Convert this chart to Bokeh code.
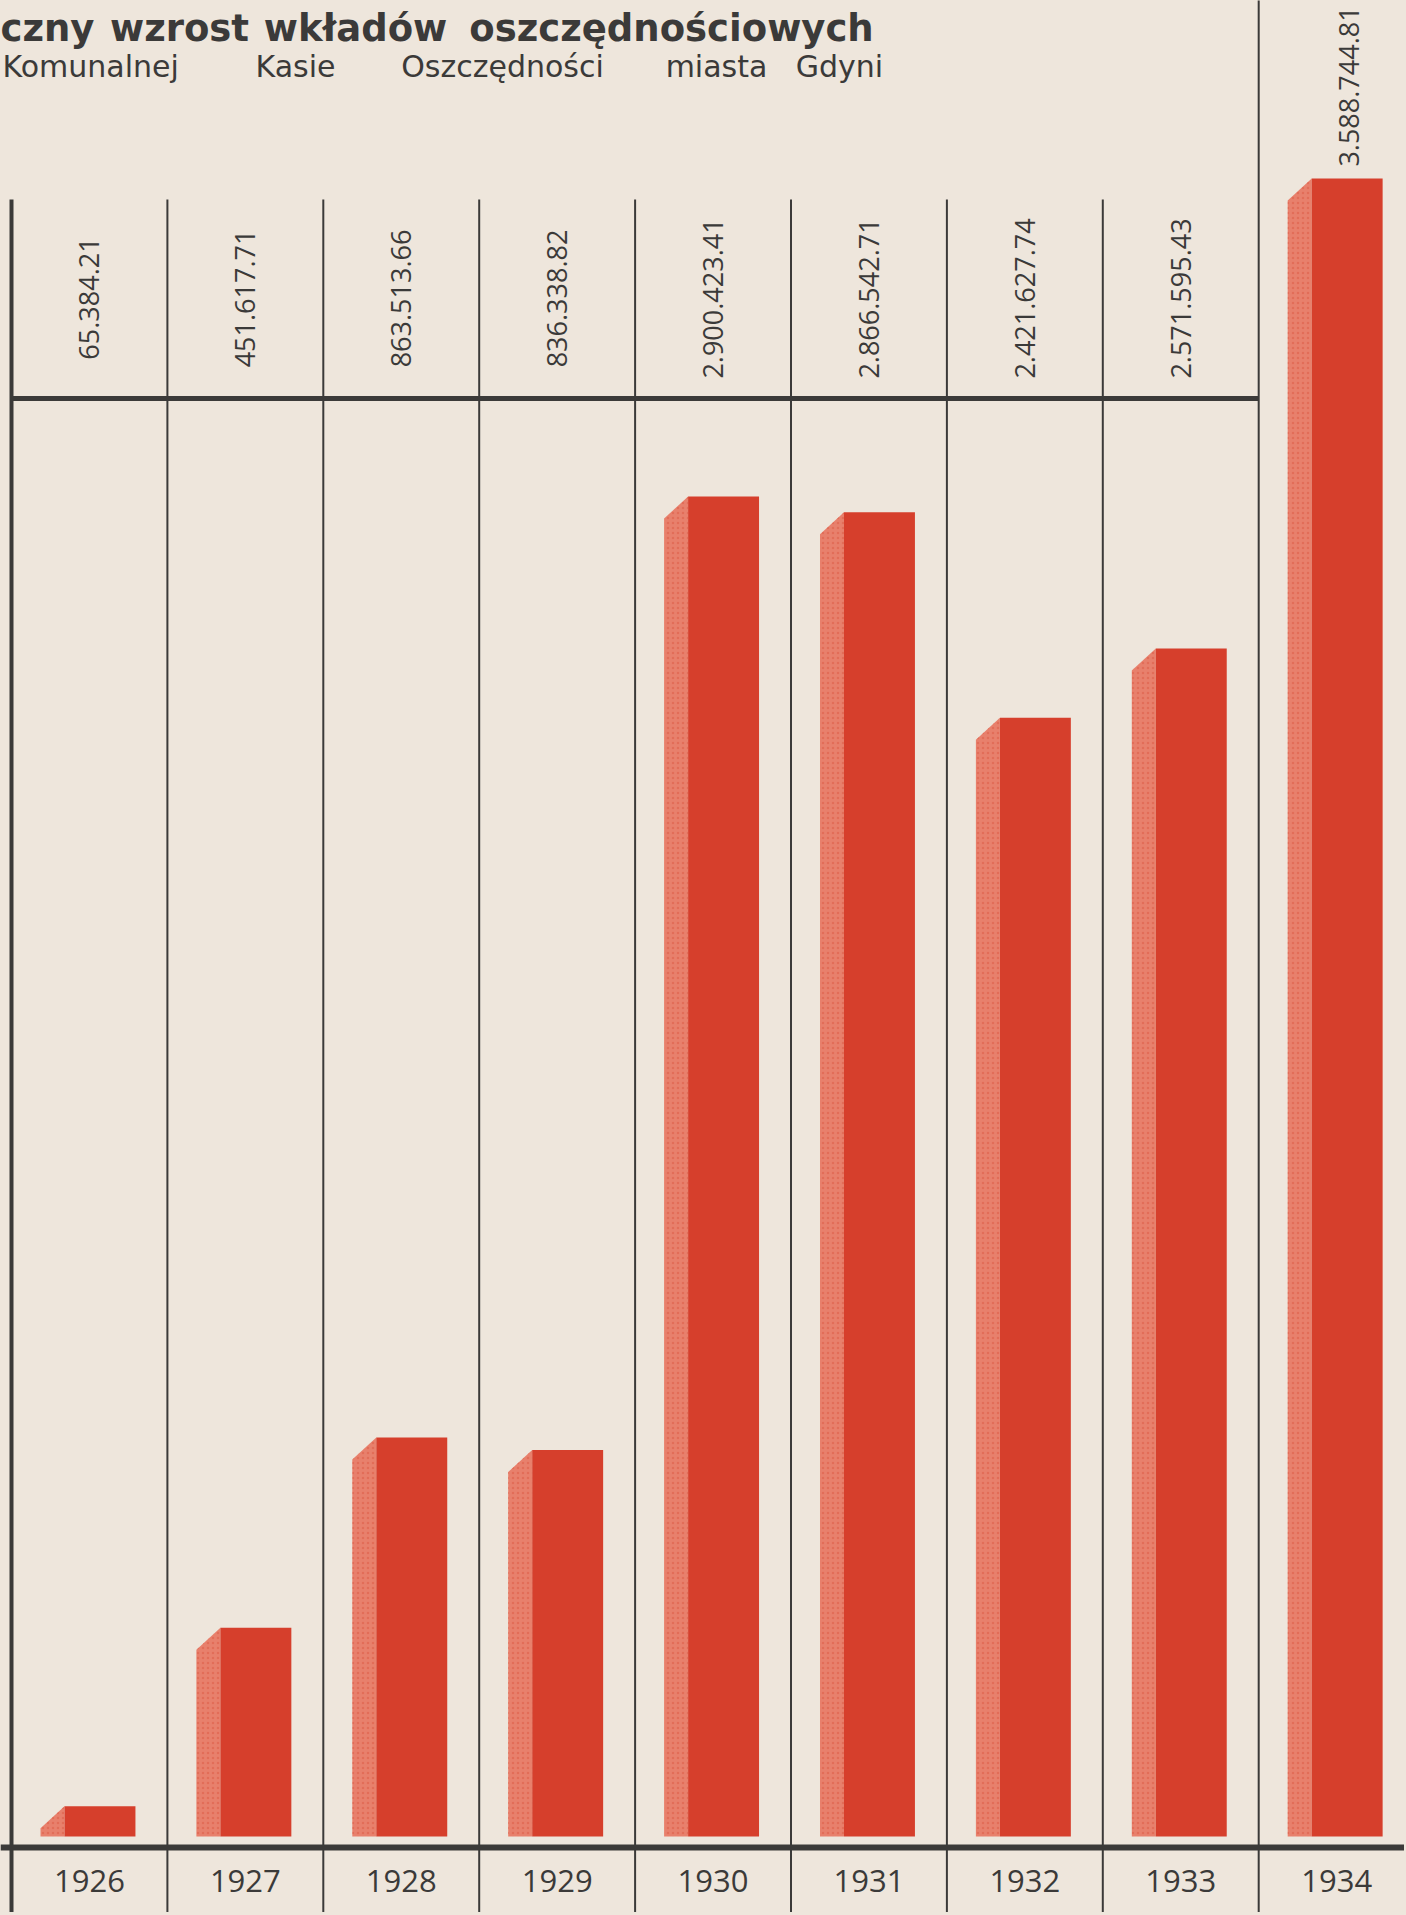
import math
from bokeh.plotting import figure
from bokeh.models import Range1d
from bokeh.embed import file_html
from bokeh.resources import INLINE
from bokeh.core.properties import value

# ---------------- data ----------------
years = ["1926", "1927", "1928", "1929", "1930", "1931", "1932", "1933", "1934"]
deposits = [65384.21, 451617.71, 863513.66, 836338.82, 2900423.41,
            2866542.71, 2421627.74, 2571595.43, 3588744.81]
value_labels = ["65.384.21", "451.617.71", "863.513.66", "836.338.82", "2.900.423.41",
                "2.866.542.71", "2.421.627.74", "2.571.595.43", "3.588.744.81"]
title_words = ["czny", "wzrost", "wkładów", "oszczędnościowych"]
subtitle_words = ["Komunalnej", "Kasie", "Oszczędności", "miasta", "Gdyni"]

# ---------------- layout (reference pixel geometry) ----------------
W, H = 1404, 1912
OFF = 0            # figure's top-left on the page
COL_W = 155.9      # width of one year column, px
LEFT = 11          # left rule, px
BASE = 1836        # bar baseline, px
PX_PER_UNIT = 462 / 1e6

def rx(px):
    return (px - LEFT) / COL_W

def ry(px):
    return (BASE - px) / PX_PER_UNIT

BG = "#eee6dc"
FRONT = "#d63f2c"
SIDE = "#e8806c"
INK = "#3b3a39"

p = figure(width=W, height=H,
           x_range=Range1d(rx(OFF), rx(OFF + W)),
           y_range=Range1d(ry(OFF + H), ry(OFF)),
           x_axis_type=None, y_axis_type=None,
           output_backend="svg", toolbar_location=None,
           min_border=0, background_fill_color=BG, border_fill_color=BG,
           outline_line_color=None)
p.grid.visible = False

n = len(years)
idx = list(range(n))

# ---------------- bars (pseudo 3D) ----------------
front_l, front_r, side_l = 0.34, 0.795, 0.186
drop = 22 / PX_PER_UNIT
side_xs = [[i + side_l, i + front_l, i + front_l, i + side_l] for i in idx]
side_ys = [[0, 0, v, max(v - drop, 0)] for v in deposits]
p.patches(side_xs, side_ys, fill_color=SIDE, line_color=None,
          hatch_pattern="dot", hatch_color="#dc5a44", hatch_scale=5, hatch_alpha=0.5)
p.quad(left=[i + front_l for i in idx], right=[i + front_r for i in idx],
       bottom=[0] * n, top=deposits, fill_color=FRONT, line_color=None)

# ---------------- table rules ----------------
y_low = ry(OFF + H + 20)
y_high = ry(OFF - 20)
top_rule = ry(199)
p.segment(x0=[0], y0=[top_rule], x1=[0], y1=[y_low], line_color=INK, line_width=4)
p.segment(x0=idx[1:8], y0=[top_rule] * 7, x1=idx[1:8], y1=[y_low] * 7,
          line_color=INK, line_width=2)
p.segment(x0=[8], y0=[y_high], x1=[8], y1=[y_low], line_color=INK, line_width=2)
p.segment(x0=[0], y0=[ry(398)], x1=[8], y1=[ry(398)], line_color=INK, line_width=5)
p.segment(x0=[rx(0)], y0=[ry(1847)], x1=[rx(1500)], y1=[ry(1847)], line_color=INK, line_width=6)

# ---------------- texts ----------------
p.text(x=[i + 0.5 for i in idx], y=[ry(1880)] * n, text=years,
       text_font=value("Open Sans"), text_font_size="31px", text_color=INK,
       text_align="center", text_baseline="middle")

lab_x = [i + 0.5 for i in idx[:8]] + [8.58]
lab_y = [ry(298)] * 8 + [ry(86)]
p.text(x=lab_x, y=lab_y, text=value_labels, angle=math.pi / 2,
       text_font=value("Open Sans"), text_font_size="27px", text_color=INK,
       text_align="center", text_baseline="middle")

title_cx = [47, 179, 355, 671]
p.text(x=[rx(v) for v in title_cx], y=[ry(28)] * len(title_words), text=title_words,
       text_font=value("DejaVu Sans"), text_font_style="bold", text_font_size="37px",
       text_color=INK, text_align="center", text_baseline="alphabetic")

sub_style = dict(text_font=value("DejaVu Sans"), text_font_size="30px",
                 text_color=INK, text_baseline="alphabetic")
p.text(x=[rx(2)], y=[ry(66)], text=subtitle_words[:1], text_align="left", **sub_style)
sub_cx = [295, 502, 716, 839]
p.text(x=[rx(v) for v in sub_cx], y=[ry(66)] * len(sub_cx), text=subtitle_words[1:],
       text_align="center", **sub_style)

html = file_html(p, INLINE)
html = html.replace("<head>", "<head><style>body{background:#eee6dc;}</style>", 1)
open("out.html", "w").write(html)
